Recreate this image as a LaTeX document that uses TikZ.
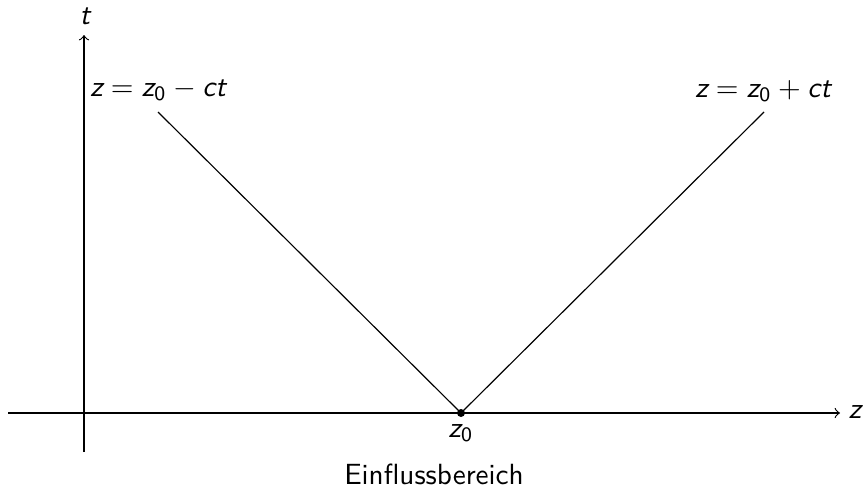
\documentclass[tikz,border=0pt]{standalone}
\newcommand\mv[1]{\mbox{\sffamily\slshape #1}}
\newcommand\sub[1]{\mbox{\sffamily\scriptsize #1}}
\begin{document}
\begin{tikzpicture}[x=0.3425pt,y=-0.3425pt, font=\sffamily,
  axis/.style={->, line width=0.4pt},
  cone/.style={line width=0.4pt}]
\useasboundingbox (0,0) rectangle (868,492);
% axes
\coordinate (xs) at (8,413);
\coordinate (xe) at (840,413);
\coordinate (ys) at (84,452);
\coordinate (ye) at (84,35);
\draw[axis] (xs) -- (xe);
\draw[axis] (ys) -- (ye);
\node (zlab) at (855,412) {$\mv{z}$};
\node (tlab) at (85,16) {$\mv{t}$};
% cone
\coordinate (z0) at (461,413);
\coordinate (lend) at (158,112);
\coordinate (rend) at (764,112);
\draw[cone] (z0) -- (lend);
\draw[cone] (z0) -- (rend);
\fill (z0) circle (4);
\node (llab) at (158,90) {$\mv{z} = \mv{z}_{\sub{0}} - \mv{ct}$};
\node (rlab) at (763,91) {$\mv{z} = \mv{z}_{\sub{0}} + \mv{ct}$};
\node (z0lab) at (461,433) {$\mv{z}_{\sub{0}}$};
\node (cap) at (434,474) {Einflussbereich};
\end{tikzpicture}
\end{document}
